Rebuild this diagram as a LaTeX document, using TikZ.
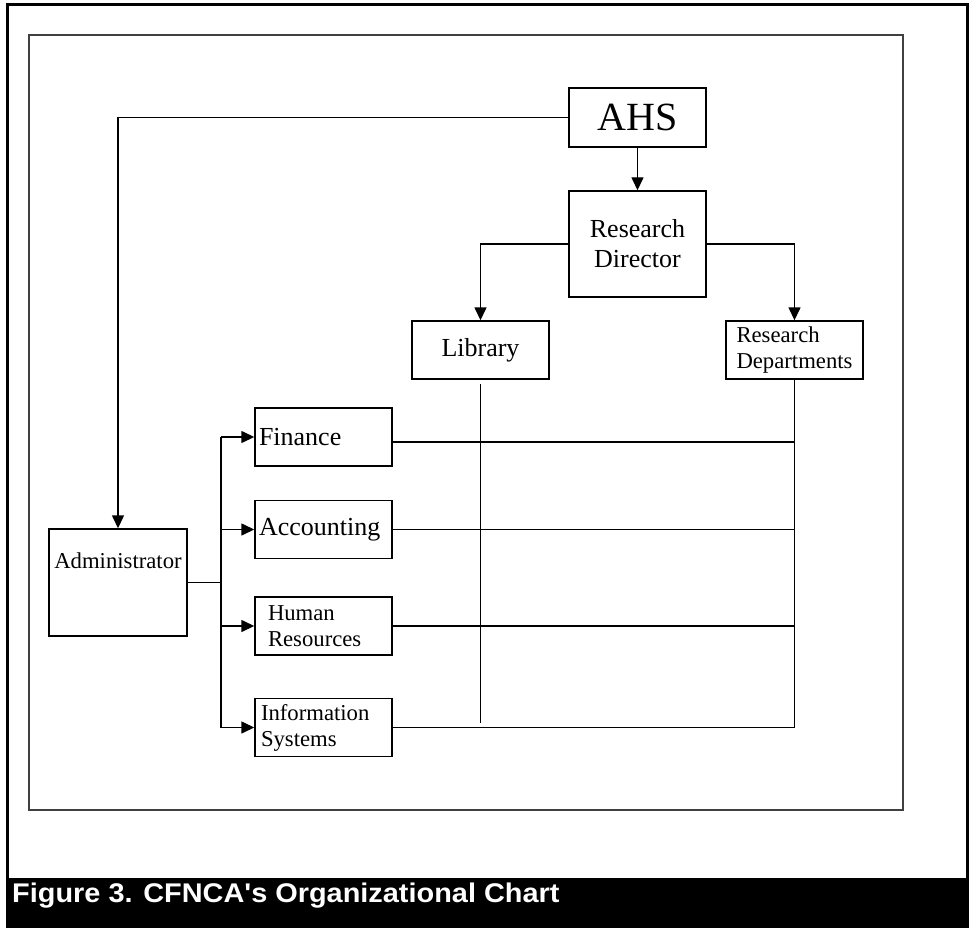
\documentclass[tikz,border=0pt]{standalone}
\usepackage{fontspec}
\setmainfont{Liberation Serif}
\newfontfamily\capfont{Liberation Sans}
\usepackage{tikz}
\usetikzlibrary{arrows.meta}
\tikzstyle{unit}=[rectangle, draw=black, line width=1.4pt, minimum width=137pt, minimum height=58pt, inner sep=0pt, font=\fontsize{26}{30}\selectfont, align=center]
\tikzstyle{small} = [unit, font=\fontsize{22.7}{26}\selectfont, align=left]
\tikzstyle{dept} = [unit, text width=129pt, inner xsep=4pt, align=left]
\tikzstyle{edge} = [draw, line width=1.4pt, -]
\tikzstyle{arrow} = [edge, -{Triangle[length=13pt, width=12pt]}]
\usepackage{xcolor}

\begin{document}
\begin{tikzpicture}[x=1pt, y=-1pt]
					\useasboundingbox (0,0) rectangle (969,928);

					% frames and caption bar
					\draw[line width=1.2pt, black!75] (29,35) rectangle (903,810);
					\draw[line width=3pt] (7.5,878) -- (7.5,5) -- (967,5) -- (967,878);
					\fill[black] (6,878) rectangle (969,928);
					\node[anchor=base west, text=white, inner sep=0pt, xscale=1.07, font=\capfont\bfseries\fontsize{27}{30}\selectfont] (caption) at (12,902) {Figure 3. CFNCA's Organizational Chart};

					\node[unit, minimum height=59pt, font=\fontsize{40}{44}\selectfont] (ahs) at (637.5,117.5) {AHS};
					\node[unit, minimum height=106pt] (rd) at (637.5,244) {Research\\Director};
					\node[unit] (lib) at (480.5,350) {Library};
					\node[small] (rdep) at (794.5,350) {Research\\Departments};
					\node[small, minimum width=138pt, text height=39pt, text depth=68pt, align=center] (admin) at (118,582.5) {Administrator};

					\node[dept] (fin) at (323.5,437) {Finance};
					\node[dept] (acc) at (323.5,529.5) {Accounting};
					\node[dept, small, text width=111pt, inner xsep=13pt] (hr) at (323.5,626) {Human\\Resources};
					\node[dept, small, text width=125pt, inner xsep=6pt] (is) at (323.5,727.5) {Information\\Systems};

					\draw[arrow] (ahs.south) -- (rd.north);
					\draw[arrow] (ahs.west) -| (admin.north);
					\draw[arrow] (rd.west) -| (lib.north);
					\draw[arrow] (rd.east) -| (rdep.north);

					% administrator bus
					\coordinate (bus) at (221,582.5);
					\draw[edge] (admin.east) -- (bus);
					\draw[edge] (bus |- fin.west) -- (bus |- is.west);
					\foreach \target in {fin, acc, hr, is}{
						\draw[arrow] (bus |- \target.west) -- (\target.west);
					}

					% lines across to the research side
					\coordinate (lib_top) at (480.5,384);
					\coordinate (lib_end) at (480.5,723);
					\draw[edge] (lib_top) -- (lib_end);
					\draw[edge] (rdep.south) |- (is.east);
					\draw[edge] ([yshift=-5pt]fin.east) -- ([yshift=-5pt]fin.east -| rdep.south);
					\foreach \source in {acc, hr}{
						\draw[edge] (\source.east) -- (\source.east -| rdep.south);
					}
				\end{tikzpicture}
\end{document}
